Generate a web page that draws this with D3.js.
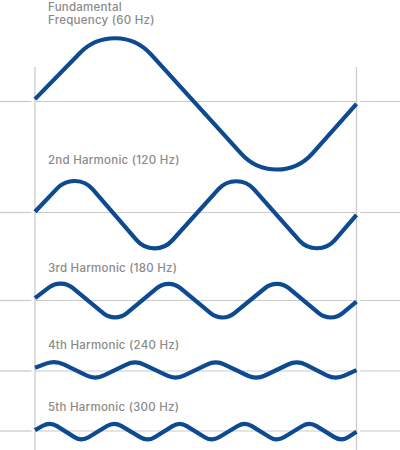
<!DOCTYPE html>
<html>
<head>
<meta charset="utf-8">
<script src="https://cdn.jsdelivr.net/npm/d3@7"></script>
<style>
  html, body { margin: 0; padding: 0; background: #ffffff; }
  svg { display: block; }
  text { font-family: Inter, Roboto, "Noto Sans", sans-serif; }
</style>
</head>
<body>
<script>
// ---------------- DATA ----------------
// time in milliseconds over one fundamental cycle (60 Hz -> 16.67 ms)
// value = relative amplitude (fundamental peak ~ 1), vertices of each waveform
const waveLabels = [
  ["Fundamental", "Frequency (60 Hz)"],
  ["2nd Harmonic (120 Hz)"],
  ["3rd Harmonic (180 Hz)"],
  ["4th Harmonic (240 Hz)"],
  ["5th Harmonic (300 Hz)"]
];
const cycleMs = 16.67;
const fundamental = [[0, 0.03], [4.2, 1.07], [12.55, -1.145], [16.67, -0.03]];
const harmonic2 = [[0, 0.01], [2.1, 0.54], [6.18, -0.6], [10.44, 0.54], [14.63, -0.6], [16.67, -0.03]];
const harmonic3 = [[0, 0.03], [1.35, 0.277], [4.15, -0.281], [6.93, 0.277], [9.71, -0.281], [12.55, 0.277], [15.32, -0.281], [16.67, -0.015]];
const harmonic4 = [[0, 0.04], [1.04, 0.134], [3.12, -0.109], [5.19, 0.134], [7.29, -0.109], [9.37, 0.134], [11.47, -0.109], [13.58, 0.134], [15.58, -0.109], [16.67, 0.01]];
const harmonic5 = [[0, 0.01], [0.78, 0.116], [2.41, -0.132], [4.10, 0.116], [5.84, -0.132], [7.50, 0.116], [9.17, -0.132], [10.88, 0.116], [12.54, -0.132], [14.23, 0.116], [15.89, -0.132], [16.67, -0.01]];
const waves = [fundamental, harmonic2, harmonic3, harmonic4, harmonic5];

// ---------------- LAYOUT / STYLE ----------------
const W = 400, H = 450;
const baselines = [101.5, 212.5, 300.5, 371, 431];
const labelY = [[11, 23.5], [164], [271.7], [349.3], [410.7]];
const labelX = 48;
const plotLeft = 35, plotRight = 356.5, vTop = 67;
const waveColor = "#0d4a8f";
const gridColor = "#c9c9c9";
const textColor = "#8a8a8a";
const roundFrac = 0.22; // horizontal half-width of each rounded extreme, as share of spacing

const svg = d3.select("body").append("svg").attr("width", W).attr("height", H);

const x = d3.scaleLinear().domain([0, cycleMs]).range([plotLeft, plotRight]);
const amp = d3.scaleLinear().domain([-1, 1]).range([80, -80]);

// horizontal baselines
const g = svg.append("g");
baselines.forEach(b => {
  [[0, 31.5], [plotLeft, plotRight + 1], [360, W]].forEach(([a, c]) => {
    g.append("line")
      .attr("x1", a).attr("x2", c).attr("y1", b).attr("y2", b)
      .attr("stroke", gridColor).attr("stroke-width", 1.2);
  });
});
// vertical lines at start / end of cycle
[0, cycleMs].forEach(t => {
  g.append("line")
    .attr("x1", x(t)).attr("x2", x(t)).attr("y1", vTop).attr("y2", H)
    .attr("stroke", gridColor).attr("stroke-width", 1.2);
});

// waves: straight segments with rounded extremes
waves.forEach((pts, i) => {
  const b = baselines[i];
  const P = pts.map(([t, v]) => [x(t), b + amp(v)]);
  const spacings = d3.range(1, P.length - 2).map(k => P[k + 1][0] - P[k][0]);
  const h = roundFrac * (spacings.length ? d3.median(spacings) : 160);
  const p = d3.path();
  p.moveTo(P[0][0], P[0][1]);
  for (let k = 1; k < P.length - 1; k++) {
    const a1 = Math.atan(Math.abs((P[k][1] - P[k - 1][1]) / (P[k][0] - P[k - 1][0])));
    const a2 = Math.atan(Math.abs((P[k + 1][1] - P[k][1]) / (P[k + 1][0] - P[k][0])));
    const a = (a1 + a2) / 2;
    const r = h / Math.sin(a);
    p.arcTo(P[k][0], P[k][1], P[k + 1][0], P[k + 1][1], r);
  }
  p.lineTo(P[P.length - 1][0], P[P.length - 1][1]);
  svg.append("path")
    .attr("d", p.toString())
    .attr("fill", "none")
    .attr("stroke", waveColor)
    .attr("stroke-width", 4.2)
    .attr("stroke-linecap", "butt")
    .attr("stroke-linejoin", "round");
});

// labels
waveLabels.forEach((lines, i) => {
  lines.forEach((s, j) => {
    svg.append("text")
      .attr("x", labelX).attr("y", labelY[i][j])
      .attr("fill", textColor)
      .attr("font-size", 11.5)
      .attr("letter-spacing", 0.25)
      .attr("font-weight", 500)
      .text(s);
  });
});
</script>
</body>
</html>
